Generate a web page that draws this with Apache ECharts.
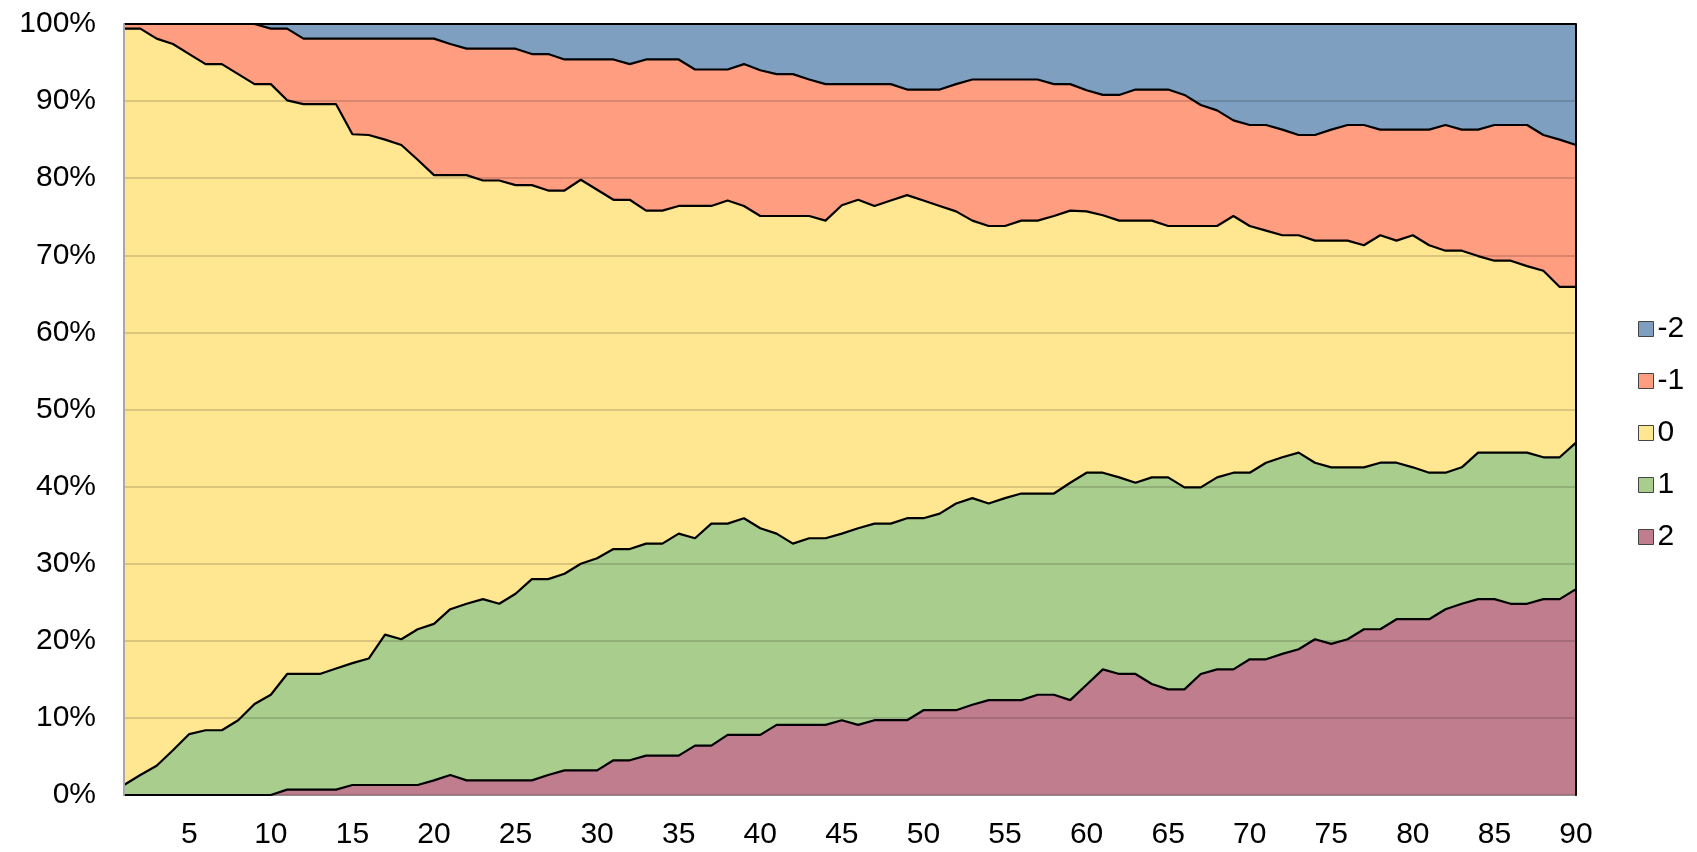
<!DOCTYPE html>
<html><head><meta charset="utf-8">
<script src="https://cdn.jsdelivr.net/npm/echarts@6/dist/echarts.min.js"></script>
<style>html,body{margin:0;padding:0;background:#fff}#c{width:1697px;height:852px}</style>
</head><body><div id="c"></div>
<script>
const categories = ['1','2','3','4','5','6','7','8','9','10','11','12','13','14','15','16','17','18','19','20',
'21','22','23','24','25','26','27','28','29','30','31','32','33','34','35','36','37','38','39','40',
'41','42','43','44','45','46','47','48','49','50','51','52','53','54','55','56','57','58','59','60',
'61','62','63','64','65','66','67','68','69','70','71','72','73','74','75','76','77','78','79','80',
'81','82','83','84','85','86','87','88','89','90'];

const seriesNames = ['2','1','0','-1','-2'];
const legendOrder = ['-2','-1','0','1','2'];

const values2 = [0,0,0,0,0,0,0,0,0,0,
0.7,0.7,0.7,0.7,1.3,1.3,1.3,1.3,1.3,1.9,
2.6,1.9,1.9,1.9,1.9,1.9,2.6,3.2,3.2,3.2,
4.5,4.5,5.1,5.1,5.1,6.4,6.4,7.8,7.8,7.8,
9.1,9.1,9.1,9.1,9.7,9.1,9.7,9.7,9.7,11.0,
11.0,11.0,11.7,12.3,12.3,12.3,13.0,13.0,12.3,14.3,
16.3,15.7,15.7,14.4,13.7,13.7,15.7,16.3,16.3,17.6,
17.6,18.3,18.9,20.2,19.6,20.2,21.5,21.5,22.8,22.8,
22.8,24.1,24.8,25.4,25.4,24.8,24.8,25.4,25.4,26.7];

const values1 = [1.3,2.6,3.8,5.8,7.9,8.4,8.4,9.7,11.8,13.0,
15.0,15.0,15.0,15.7,15.8,16.4,19.5,18.9,20.2,20.3,
21.5,22.9,23.5,22.9,24.2,26.1,25.4,25.5,26.8,27.5,
27.4,27.4,27.5,27.5,28.8,26.9,28.8,27.4,28.1,26.8,
24.8,23.5,24.2,24.2,24.2,25.5,25.5,25.5,26.2,24.9,
25.5,26.8,26.8,25.5,26.2,26.8,26.1,26.1,28.2,27.5,
25.5,25.5,24.8,26.8,27.5,26.2,24.2,24.9,25.5,24.2,
25.5,25.5,25.5,22.9,22.9,22.3,21.0,21.6,20.3,19.7,
19.0,17.7,17.7,19.0,19.0,19.6,19.6,18.4,18.4,19.0];

const values0 = [98.1,96.8,94.3,91.6,88.2,86.4,86.4,83.8,80.4,79.2,
74.4,73.9,73.9,73.2,68.6,67.9,64.2,64.1,60.9,58.2,
56.3,55.6,54.3,54.9,53.0,51.1,50.4,49.7,49.8,47.8,
45.3,45.3,43.2,43.2,42.5,43.1,41.2,41.9,40.5,40.5,
41.2,42.5,41.8,41.2,42.6,42.6,41.2,41.9,41.9,41.2,
39.9,37.9,36.0,36.0,35.3,35.4,35.4,36.0,35.3,33.9,
33.4,33.3,34.0,33.3,32.6,33.9,33.9,32.6,33.3,32.0,
30.1,28.8,28.2,28.8,29.4,29.4,28.8,29.5,28.8,30.1,
29.5,28.8,28.1,25.5,24.9,24.9,24.2,24.2,22.1,20.2];

const valuesM1 = [0.6,0.6,1.9,2.6,3.9,5.2,5.2,6.5,7.8,7.2,
9.3,8.5,8.5,8.5,12.4,12.5,13.1,13.8,15.7,17.7,
17.0,16.4,17.1,17.1,17.7,17.0,17.7,17.0,15.6,16.9,
18.2,17.6,19.6,19.6,19.0,17.7,17.7,17.0,18.4,18.9,
18.4,18.4,17.7,17.7,15.7,15.0,15.8,15.1,13.7,14.4,
15.1,16.5,18.3,19.0,19.0,18.3,18.3,17.1,16.4,15.7,
15.6,16.3,17.0,17.0,17.7,17.0,15.7,15.0,12.4,13.1,
13.7,13.7,13.0,13.7,14.4,15.0,15.6,13.7,14.4,13.7,
15.0,16.3,15.7,16.4,17.6,17.6,18.3,17.6,19.1,18.4];

const valuesM2 = [0,0,0,0,0,0,0,0,0,0.6,
0.6,1.9,1.9,1.9,1.9,1.9,1.9,1.9,1.9,1.9,
2.6,3.2,3.2,3.2,3.2,3.9,3.9,4.6,4.6,4.6,
4.6,5.2,4.6,4.6,4.6,5.9,5.9,5.9,5.2,6.0,
6.5,6.5,7.2,7.8,7.8,7.8,7.8,7.8,8.5,8.5,
8.5,7.8,7.2,7.2,7.2,7.2,7.2,7.8,7.8,8.6,
9.2,9.2,8.5,8.5,8.5,9.2,10.5,11.2,12.5,13.1,
13.1,13.7,14.4,14.4,13.7,13.1,13.1,13.7,13.7,13.7,
13.7,13.1,13.7,13.7,13.1,13.1,13.1,14.4,15.0,15.7];

const colors = {'2':'#c07d8e','1':'#a8cd8c','0':'#ffe691','-1':'#fe9d80','-2':'#7f9fc1'};
const dataByName = {'2':values2,'1':values1,'0':values0,'-1':valuesM1,'-2':valuesM2};

const FONT = '"Liberation Sans", Arial, sans-serif';
const chart = echarts.init(document.getElementById('c'), null, {renderer:'canvas'});

chart.setOption({
  animation:false,
  backgroundColor:'#ffffff',
  grid:{left:124, top:24, width:1452, height:771, containLabel:false},
  legend:{
    data: legendOrder,
    orient:'vertical',
    left:1633, top:309,
    itemWidth:15, itemHeight:15, itemGap:22,
    icon:'rect',
    textStyle:{fontFamily:FONT, fontSize:30, color:'#000', padding:[0,0,0,-1]},
    itemStyle:{borderColor:'#444', borderWidth:1}
  },
  xAxis:{
    type:'category', data:categories, boundaryGap:false,
    axisLine:{show:true, lineStyle:{color:'#a8a8a8', width:2}},
    axisTick:{show:false},
    axisLabel:{
      interval:(i)=> (i+1)%5===0,
      fontFamily:FONT, fontSize:30, color:'#000', margin:25
    },
    splitLine:{show:false}
  },
  yAxis:[{
    type:'value', min:0, max:100, interval:10, z:10,
    axisLine:{show:true, lineStyle:{color:'#a8a8a8', width:2}},
    axisTick:{show:false},
    axisLabel:{formatter:'{value}%', fontFamily:FONT, fontSize:30, color:'#000', margin:28},
    splitLine:{show:true, lineStyle:{color:'rgba(0,0,0,0.14)', width:2}}
  },{
    type:'value', min:0, max:100, interval:10, position:'right', z:10,
    axisLine:{show:true, lineStyle:{color:'#000', width:2}},
    axisTick:{show:false}, axisLabel:{show:false}, splitLine:{show:false}
  }],
  series: seriesNames.map(n=>({
    name:n, type:'line', stack:'total', data:dataByName[n],
    symbol:'none', smooth:false,
    lineStyle:{color:'#000', width:2.2},
    itemStyle:{color:colors[n]},
    areaStyle:{color:colors[n], opacity:1}
  }))
});
</script></body></html>
